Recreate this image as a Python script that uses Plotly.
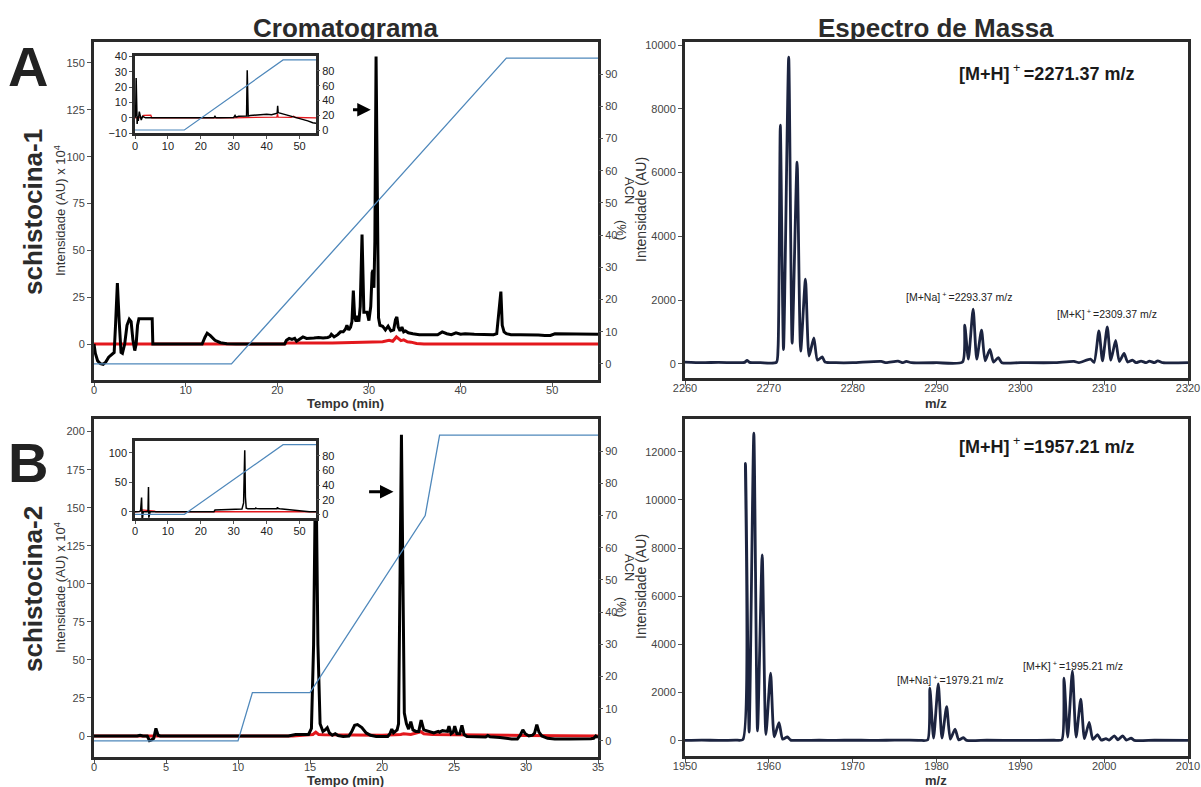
import plotly.graph_objects as go

FONT = "Liberation Sans, Arial, sans-serif"
W, H = 1201, 787

# ---------------- Chromatogram, schistocina-1 ----------------
a_time = [0, 0.15, 0.4, 0.7, 1.0, 1.3, 1.6, 1.9, 2.2, 2.35, 2.55, 2.75, 2.95, 3.1, 3.35, 3.6, 3.85, 4.05,
          4.25, 4.45, 4.6, 4.75, 4.9, 5.2, 6.35, 6.42, 7, 11.8, 12.1, 12.35, 12.7, 13.2, 13.8, 14.5, 15.5,
          20.8, 21.0, 21.3, 21.6, 21.9, 22.1, 22.5, 22.8, 23.2, 23.6, 24.0, 24.5, 25.0, 25.5, 25.75, 25.9,
          26.2, 26.6, 26.9, 27.2, 27.45, 27.6, 27.8, 28.0, 28.15, 28.3, 28.45, 28.6, 28.75, 28.9, 29.05,
          29.25, 29.45, 29.6, 29.8, 30.0, 30.2, 30.35, 30.45, 30.55, 30.65, 30.78, 30.92, 31.05, 31.2, 31.5,
          31.8, 32.1, 32.4, 32.7, 32.9, 33.05, 33.2, 33.4, 33.6, 33.8, 34.0, 34.3, 34.8, 35.5, 36.5, 37.5,
          38.0, 38.5, 39.0, 39.5, 40.0, 40.5, 41.5, 42.5, 43.0, 43.6, 43.95, 44.1, 44.25, 44.4, 44.55,
          44.75, 45.0, 45.5, 46.5, 47.5, 48.5, 49.2, 49.8, 50.3, 51.5, 53, 55]
a_uv = [0, -5, -9, -10.5, -10.8, -9.5, -7, -5.5, -4.5, 10, 32.5, 12, -4.5, -5, 0, 10, 13.2, 12,
        2, -3.5, 0, 10, 13.5, 13.5, 13.5, 0, 0, 0, 3.5, 5.8, 4.5, 2, 0.7, 0.2, 0,
        0, 2, 3, 2.5, 3, 1.5, 3, 3.8, 3, 3, 3.2, 3.5, 3.2, 3.5, 4, 5.2,
        3.8, 5, 6.5, 6.5, 8, 10, 7.5, 9, 12, 28.5, 14, 12, 15, 12, 20,
        58.5, 17, 17, 17, 12.5, 20, 38, 39.5, 30, 55, 153.5, 60, 14, 10, 9.5,
        7.5, 9.5, 7, 7.5, 13, 14.5, 9, 7, 9, 6.5, 7, 6, 5.5, 5, 5, 5,
        6.5, 5.5, 5, 6, 5.2, 5.5, 5.2, 5, 5.2, 5, 5.5, 13.5, 20, 28, 10,
        6.5, 5.5, 5, 5, 5, 4.8, 4.5, 4.6, 5.5, 5.5, 5.2, 5.2]
a_blank_time = [0, 20.8, 21.0, 22, 24, 26, 28, 30, 31.5, 32.2, 32.6, 33.0, 33.2, 33.5, 33.8, 34.2, 34.6,
                35.2, 36, 55]
a_blank = [0, 0, 0.5, 0.6, 0.5, 0.6, 0.8, 1.0, 1.2, 2.0, 1.5, 3.8, 3.0, 1.8, 2.2, 1.2, 1.0, 0.3, 0, 0]
a_grad_time = [0, 15, 45, 55]
a_grad_acn = [0, 0, 95, 95]

# full-run inset, schistocina-1
ai_time = [0, 0.2, 0.35, 0.5, 0.65, 0.8, 1.0, 1.3, 1.6, 1.9, 2.3, 2.7, 3.2, 5, 10, 20, 24, 24.3, 24.6,
           26, 30, 30.4, 30.7, 31.5, 32.2, 33, 33.9, 34.1, 34.25, 34.4, 35, 37, 39, 40, 41.5, 42.8,
           43.2, 43.35, 43.5, 43.8, 44.5, 45.5, 46.5, 47.5, 48.5, 49.5, 51, 52.5, 54, 55]
ai_uv = [0, 2, 26, 3, -4, 1, -2, 4, 2, -1.5, 1, 0.3, 0, 0, 0, 0, 0, 1, 0,
         0, 0.2, 1.5, 0.4, 1.0, 1.0, 1.0, 1.2, 31, 1.3, 1.2, 1.5, 1.8, 2.2, 2.3, 2.0, 2.5,
         3, 7.8, 3.5, 3.2, 2.8, 2.3, 1.5, 1.2, 0.8, 0, -1, -2, -3.2, -3.5]
ai_blank_time = [0, 2.2, 2.6, 4.8, 5.1, 30, 43.1, 43.3, 43.5, 47.5, 48.2, 48.8, 55]
ai_blank = [0, 0.3, 1.6, 1.7, 0, 0, 0.5, 2.5, 0.5, 0.3, 1, 0.2, 0]
ai_grad_time = [0, 15, 45, 55]
ai_grad_acn = [0, 0, 95, 95]

# ---------------- Chromatogram, schistocina-2 ----------------
b_time = [0, 3.0, 3.2, 3.4, 3.7, 3.85, 4.0, 4.15, 4.3, 4.45, 4.6, 5, 10, 13.5, 14.0, 14.5, 14.9, 15.1,
          15.25, 15.4, 15.55, 15.7, 15.9, 16.05, 16.2, 16.35, 16.55, 16.75, 16.95, 17.3, 17.7, 17.9,
          18.1, 18.3, 18.6, 18.9, 19.2, 19.6, 20.0, 20.4, 20.55, 20.68, 20.8, 20.95, 21.05, 21.15,
          21.35, 21.55, 21.7, 21.85, 22.0, 22.15, 22.35, 22.55, 22.72, 22.9, 23.2, 23.6, 23.9, 24.0,
          24.2, 24.4, 24.55, 24.65, 24.8, 24.95, 25.05, 25.2, 25.4, 25.55, 25.7, 25.9, 26.5, 27.2,
          27.35, 27.5, 28.2, 29.0, 29.4, 29.6, 29.78, 29.95, 30.2, 30.45, 30.6, 30.75, 30.9, 31.1,
          31.5, 32.0, 33, 34, 34.5, 34.7, 34.85, 35]
b_uv = [0, 0, 0.5, 0, 0, -3, -2.5, -1.5, 5, 0.5, 0, 0, 0, 0, 1, 1, 1, 5,
        60, 190, 60, 8, 3, 4, 5.5, 2, 0.5, 1.5, 0.3, -0.3, 0, 3,
        7, 7.5, 5.5, 2, 0.5, -0.3, -0.5, -0.3, 1.5, 4.5, 2, 3, 4, 8,
        198, 15, 8, 4.5, 9.5, 4, 3, 3, 10.5, 4, 3, 2, 3, 2.5,
        3.5, 3, 3, 6.5, 1.5, 2.5, 6.5, 1.5, 1.5, 7, 1, -0.3, -0.5, -0.7,
        0.3, -0.5, -1, -2, -2, 0.5, 4, 1.5, 0, 0.5, 2, 7.5, 2.5, 0,
        -1.5, -2, -2, -2, -1.8, -1.5, 0, -1]
b_blank_time = [0, 13.8, 14.5, 15.2, 15.4, 15.6, 16, 18, 20, 21.3, 21.5, 22, 22.7, 22.9, 23.5, 25, 27,
                30, 35]
b_blank = [0, 0, 0.5, 1, 2.5, 1, 0.8, 0.5, 0.5, 1, 1.5, 1, 2.8, 1.5, 1, 0.8, 0.5, 0.3, 0]
b_grad_time = [0, 10, 11, 15, 23, 24, 35]
b_grad_acn = [0, 0, 15, 15, 70, 95, 95]

# full-run inset, schistocina-2
bi_time = [0, 1.4, 1.7, 1.85, 2.0, 2.15, 2.3, 2.5, 3.8, 3.95, 4.1, 4.2, 4.35, 4.6, 5, 10, 20, 24, 24.3,
           25, 28, 31, 32.5, 33.0, 33.2, 33.35, 33.55, 33.8, 34.3, 35.5, 36.5, 36.7, 36.9, 38, 41,
           43.1, 43.3, 43.5, 44, 45.5, 47, 48.5, 50, 51.5, 53, 55]
bi_uv = [0, 0.5, 2, 24, 24, -10, -10, 0, 0, 2, 42, -10, -2, 0, 0, 0, 0, 0, 2.8,
         3, 3.5, 4, 4.5, 15, 60, 104, 25, 6, 5, 5, 5.2, 6.3, 5.3, 5, 5,
         5.2, 7.3, 5.5, 5, 4, 3, 2, 1, 0.3, 0, 0]
bi_blank_time = [0, 1.5, 2.0, 3.5, 6, 6.3, 45, 47, 50, 51, 55]
bi_blank = [0, 0.5, 3, 2.5, 1, 0, 0, 0.5, 1, 0, 0]
bi_grad_time = [0, 15, 45, 55]
bi_grad_acn = [0, 0, 95, 95]

# ---------------- Mass spectra ----------------
ms1_mz = [2260, 2262, 2264, 2266, 2267.1, 2267.4, 2267.7, 2269, 2270.9, 2271.1, 2271.37, 2271.75,
          2272.37, 2272.78, 2273.37, 2273.8, 2274.37, 2274.8, 2275.37, 2275.8, 2276.37, 2276.7, 2278,
          2280, 2283.4, 2284, 2285.4, 2286, 2286.4, 2287, 2290, 2293.1, 2293.37, 2293.8, 2294.37,
          2294.8, 2295.37, 2295.8, 2296.37, 2296.8, 2297.37, 2297.8, 2300, 2304, 2306.4, 2307,
          2308.37, 2308.8, 2309.37, 2309.8, 2310.37, 2310.8, 2311.37, 2311.8, 2312.37, 2312.8,
          2313.37, 2313.8, 2314.4, 2315, 2315.4, 2316, 2316.4, 2317, 2320]
ms1_int = [60, 40, 50, 40, 50, 110, 50, 40, 50, 500, 7490, 450,
           9620, 650, 6330, 400, 2660, 250, 820, 120, 220, 60, 40,
           40, 80, 40, 90, 40, 80, 40, 40, 60, 1220, 150, 1720,
           150, 1060, 100, 460, 60, 200, 40, 40, 40, 80, 40,
           150, 50, 1040, 100, 1160, 120, 740, 80, 330, 60,
           120, 40, 90, 40, 90, 40, 100, 40, 40]

ms2_mz = [1950, 1952, 1954, 1956, 1956.9, 1957.21, 1957.65, 1958.21, 1958.65, 1959.21, 1959.65,
          1960.21, 1960.65, 1961.21, 1961.65, 1962.21, 1962.6, 1964, 1966, 1968, 1970, 1972, 1974,
          1976, 1978, 1978.95, 1979.21, 1979.65, 1980.21, 1980.65, 1981.21, 1981.65, 1982.21,
          1982.65, 1983.21, 1983.6, 1986, 1990, 1994, 1994.95, 1995.21, 1995.65, 1996.21, 1996.65,
          1997.21, 1997.65, 1998.21, 1998.65, 1999.21, 1999.65, 2000.21, 2000.6, 2001.21, 2001.65,
          2002.21, 2002.65, 2003.21, 2003.6, 2006, 2010]
ms2_int = [10, 20, 10, 20, 40, 11520, 350, 12770, 400, 7710, 250,
           2800, 150, 750, 60, 150, 20, 10, 15, 10, 20, 10, 15,
           20, 10, 30, 2175, 100, 2355, 100, 1410, 60, 480,
           30, 120, 10, 15, 10, 15, 30, 2590, 150, 2895, 150,
           1720, 80, 760, 50, 250, 20, 80, 20, 200, 30,
           200, 20, 100, 10, 15, 10]

chrom_ticks_a = [0, 10, 20, 30, 40, 50]
chrom_ticks_b = [0, 5, 10, 15, 20, 25, 30, 35]
acn_ticks = list(range(0, 100, 10))
inset_acn_ticks = [0, 20, 40, 60, 80]

BLACK = "#000000"
RED = "#e3181d"
BLUE = "#4f88bb"
NAVY = "#1c2440"
FRAME = "#2a2a2a"
TICKC = "#444444"


def px_x(p):
    return p / W


def px_y(p):
    return 1 - p / H


fig = go.Figure()

# main chromatogram traces
fig.add_trace(go.Scatter(x=a_grad_time, y=a_grad_acn, xaxis="x", yaxis="y2",
                         line=dict(color=BLUE, width=1.3)))
fig.add_trace(go.Scatter(x=a_blank_time, y=a_blank, xaxis="x", yaxis="y",
                         line=dict(color=RED, width=3)))
fig.add_trace(go.Scatter(x=a_time, y=a_uv, xaxis="x", yaxis="y",
                         line=dict(color=BLACK, width=3)))

fig.add_trace(go.Scatter(x=ai_grad_time, y=ai_grad_acn, xaxis="x3", yaxis="y4",
                         line=dict(color=BLUE, width=1.2)))
fig.add_trace(go.Scatter(x=ai_blank_time, y=ai_blank, xaxis="x3", yaxis="y3",
                         line=dict(color=RED, width=1.3)))
fig.add_trace(go.Scatter(x=ai_time, y=ai_uv, xaxis="x3", yaxis="y3",
                         line=dict(color=BLACK, width=1.5)))

fig.add_trace(go.Scatter(x=ms1_mz, y=ms1_int, xaxis="x5", yaxis="y5",
                         line=dict(color=NAVY, width=2.8, shape="spline", smoothing=0.6)))

fig.add_trace(go.Scatter(x=b_grad_time, y=b_grad_acn, xaxis="x6", yaxis="y7",
                         line=dict(color=BLUE, width=1.3)))
fig.add_trace(go.Scatter(x=b_blank_time, y=b_blank, xaxis="x6", yaxis="y6",
                         line=dict(color=RED, width=3)))
fig.add_trace(go.Scatter(x=b_time, y=b_uv, xaxis="x6", yaxis="y6",
                         line=dict(color=BLACK, width=3)))

fig.add_trace(go.Scatter(x=bi_grad_time, y=bi_grad_acn, xaxis="x8", yaxis="y9",
                         line=dict(color=BLUE, width=1.2)))
fig.add_trace(go.Scatter(x=bi_blank_time, y=bi_blank, xaxis="x8", yaxis="y8",
                         line=dict(color=RED, width=1.3)))
fig.add_trace(go.Scatter(x=bi_time, y=bi_uv, xaxis="x8", yaxis="y8",
                         line=dict(color=BLACK, width=1.5)))

fig.add_trace(go.Scatter(x=ms2_mz, y=ms2_int, xaxis="x10", yaxis="y10",
                         line=dict(color=NAVY, width=2.8, shape="spline", smoothing=0.6)))

fig.update_traces(mode="lines", showlegend=False, hoverinfo="skip")


def frame_axis(**kw):
    base = dict(showline=True, mirror=True, linewidth=3, linecolor=FRAME, showgrid=False,
                zeroline=False, ticks="outside", ticklen=4, tickwidth=1, tickcolor="#555555",
                automargin=False, tickformat="d",
                tickfont=dict(family=FONT, size=11, color=TICKC), fixedrange=True)
    base.update(kw)
    return base


def side_axis(**kw):
    base = dict(showline=False, showgrid=False, zeroline=False, ticks="outside", ticklen=4,
                tickwidth=1, tickcolor="#555555", side="right", automargin=False,
                tickfont=dict(family=FONT, size=11, color=TICKC), fixedrange=True)
    base.update(kw)
    return base


inset_font = dict(family=FONT, size=11, color="#222222")

chrom_x = [px_x(94), px_x(598)]
mass_x = [px_x(685), px_x(1188)]
inset_x = [px_x(135), px_x(316)]

fig.update_layout(
    template="none",
    width=W, height=H, autosize=False,
    margin=dict(l=0, r=0, t=0, b=0),
    paper_bgcolor="white", plot_bgcolor="white",
    showlegend=False,
    # schistocina-1 chromatogram
    xaxis=frame_axis(domain=chrom_x, range=[0, 55], anchor="y", tickvals=chrom_ticks_a,
                     ticklabelstandoff=-6),
    yaxis=frame_axis(domain=[px_y(380), px_y(42)], range=[-19.2, 161.2], anchor="x",
                     tickvals=[0, 25, 50, 75, 100, 125, 150]),
    yaxis2=side_axis(overlaying="y", anchor="x", range=[-5, 100], tickvals=acn_ticks),
    # inset
    xaxis3=frame_axis(domain=inset_x, range=[0, 55], anchor="y3", tickvals=chrom_ticks_a,
                      linewidth=2.5, ticklen=3, tickfont=inset_font, ticklabelstandoff=-2),
    yaxis3=frame_axis(domain=[px_y(133.4), px_y(55.7)], range=[-10.2, 40.6], anchor="x3",
                      tickvals=[-10, 0, 10, 20, 30, 40], linewidth=2.5, ticklen=3,
                      tickfont=inset_font),
    yaxis4=side_axis(overlaying="y3", anchor="x3", range=[-4.6, 100.7], tickvals=inset_acn_ticks,
                     ticklen=3, tickfont=inset_font),
    # schistocina-1 spectrum
    xaxis5=frame_axis(domain=mass_x, range=[2260, 2320], anchor="y5",
                      tickvals=[2260, 2270, 2280, 2290, 2300, 2310, 2320], ticklabelstandoff=-6),
    yaxis5=frame_axis(domain=[px_y(378), px_y(42)], range=[-440, 10094], anchor="x5",
                      tickvals=[0, 2000, 4000, 6000, 8000, 10000]),
    # schistocina-2 chromatogram
    xaxis6=frame_axis(domain=chrom_x, range=[0, 35], anchor="y6", tickvals=chrom_ticks_b,
                      ticklabelstandoff=-6),
    yaxis6=frame_axis(domain=[px_y(757), px_y(419)], range=[-13.8, 208.3], anchor="x6",
                      tickvals=[0, 25, 50, 75, 100, 125, 150, 175, 200]),
    yaxis7=side_axis(overlaying="y6", anchor="x6", range=[-5, 100], tickvals=acn_ticks),
    # inset
    xaxis8=frame_axis(domain=inset_x, range=[0, 55], anchor="y8", tickvals=chrom_ticks_a,
                      linewidth=2.5, ticklen=3, tickfont=inset_font, ticklabelstandoff=-2),
    yaxis8=frame_axis(domain=[px_y(518), px_y(441)], range=[-10.6, 119.8], anchor="x8",
                      tickvals=[0, 50, 100], linewidth=2.5, ticklen=3, tickfont=inset_font),
    yaxis9=side_axis(overlaying="y8", anchor="x8", range=[-5, 100], tickvals=inset_acn_ticks,
                     ticklen=3, tickfont=inset_font),
    # schistocina-2 spectrum
    xaxis10=frame_axis(domain=mass_x, range=[1950, 2010], anchor="y10",
                       tickvals=[1950, 1960, 1970, 1980, 1990, 2000, 2010], ticklabelstandoff=-6),
    yaxis10=frame_axis(domain=[px_y(756), px_y(419)], range=[-640, 13360], anchor="x10",
                       tickvals=[0, 2000, 4000, 6000, 8000, 10000, 12000]),
)

ann = []


def text(x, y, s, size, bold=False, angle=0, color="#2b2b2b", xanchor="center"):
    ann.append(dict(x=px_x(x), y=px_y(y), xref="paper", yref="paper", text=s, showarrow=False,
                    textangle=angle, xanchor=xanchor, yanchor="middle",
                    font=dict(family=FONT, size=size, color=color,
                              weight="bold" if bold else "normal")))


text(345, 28, "Cromatograma", 26, bold=True)
text(936, 28, "Espectro de Massa", 26, bold=True)
text(28, 66, "A", 56, bold=True, color="#222222")
text(28, 462, "B", 56, bold=True, color="#222222")
text(33, 212, "schistocina-1", 26, bold=True, angle=-90)
text(33, 589, "schistocina-2", 26, bold=True, angle=-90)

for cy in (211, 588):
    text(60, cy, "Intensidade (AU) x 10<sup>4</sup>", 13, angle=-90, color="#333333")
    text(641, cy - 1, "Intensidade (AU)", 14, angle=-90, color="#333333")
    text(630, cy - 21, "ACN", 13, angle=90, color="#333333")
    text(622, cy + 19, "(%)", 13, angle=90, color="#333333")

text(345, 404, "Tempo (min)", 13, bold=True, color="#333333")
text(345, 780, "Tempo (min)", 13, bold=True, color="#333333")
text(936, 404, "m/z", 13, bold=True, color="#333333")
text(936, 780, "m/z", 13, bold=True, color="#333333")

text(1046, 72, "<b>[M+H]</b><sup> + </sup><b>=2271.37 m/z</b>", 18, color="#1a1a1a")
text(1046, 445, "<b>[M+H]</b><sup> + </sup><b>=1957.21 m/z</b>", 18, color="#1a1a1a")
text(959, 296, "[M+Na]<sup> + </sup>=2293.37 m/z", 10.5, color="#222222")
text(1107, 313, "[M+K]<sup> + </sup>=2309.37 m/z", 10.5, color="#222222")
text(950, 679, "[M+Na]<sup> + </sup>=1979.21 m/z", 10.5, color="#222222")
text(1073, 665, "[M+K]<sup> + </sup>=1995.21 m/z", 10.5, color="#222222")

# arrows marking the collected peak
ann.append(dict(x=30.2, y=125, ax=28.1, ay=125, xref="x", yref="y", axref="x", ayref="y",
                text="", showarrow=True, arrowhead=2, arrowsize=0.9, arrowwidth=3,
                arrowcolor="#000000"))
ann.append(dict(x=20.8, y=160.5, ax=19.0, ay=160.5, xref="x6", yref="y6", axref="x6", ayref="y6",
                text="", showarrow=True, arrowhead=2, arrowsize=0.9, arrowwidth=3,
                arrowcolor="#000000"))

fig.update_layout(annotations=ann)

fig.write_html("out.html")
